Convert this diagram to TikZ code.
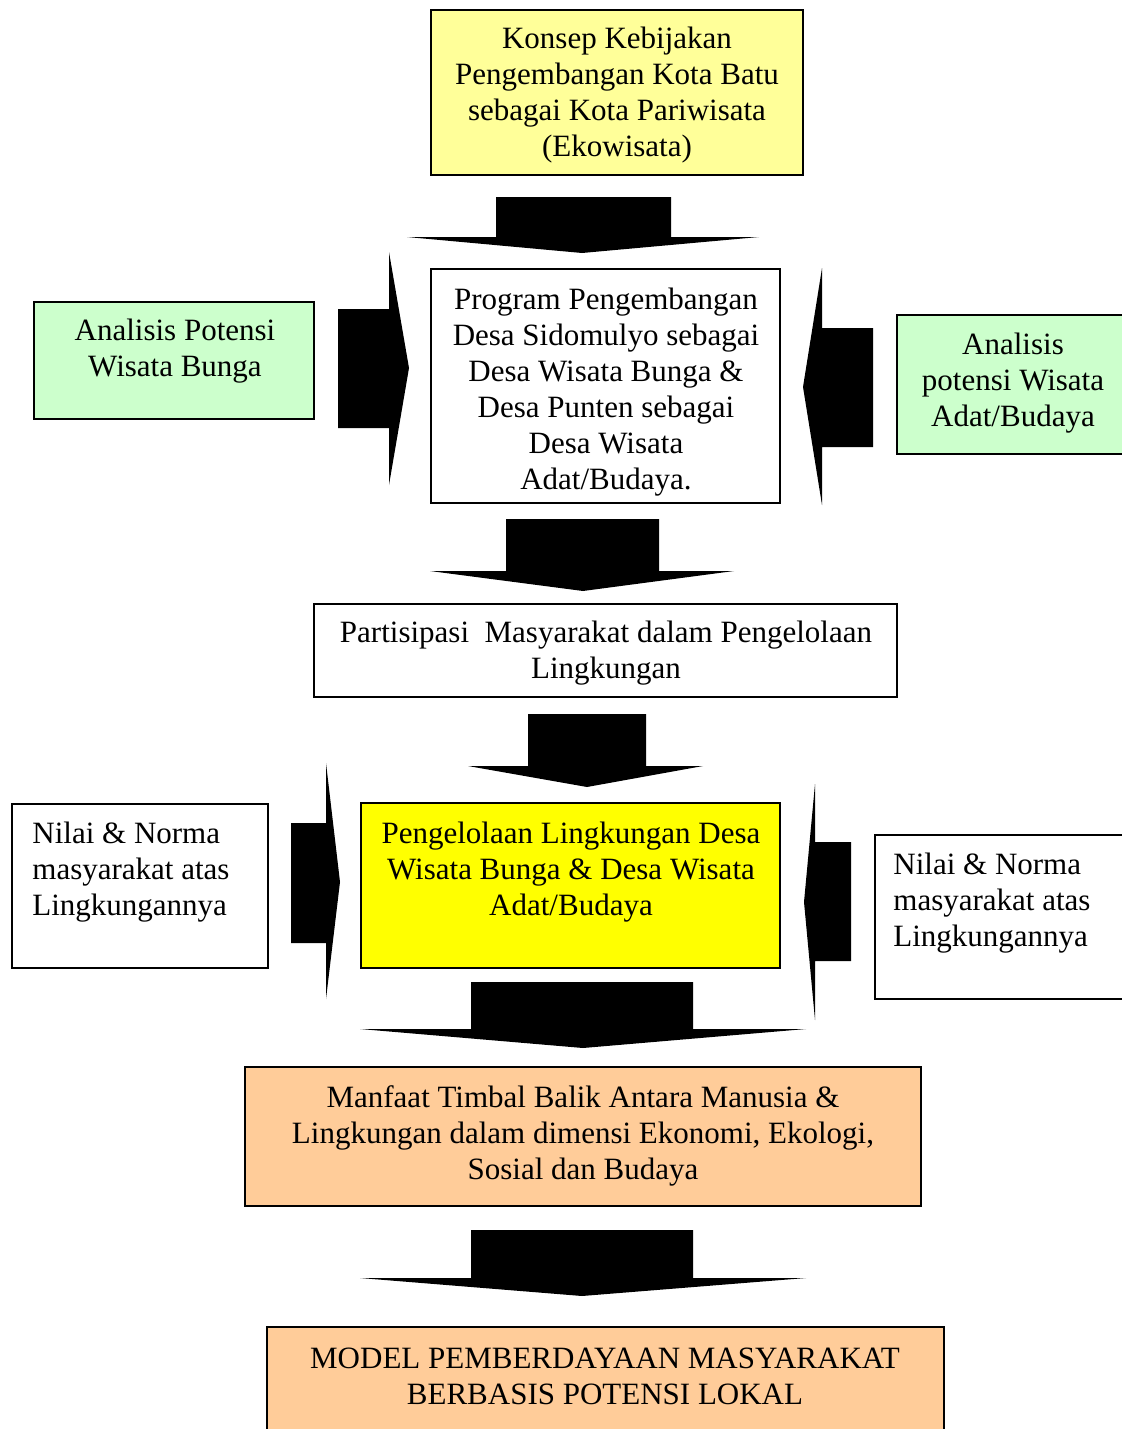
\documentclass[tikz,border=0pt]{standalone}
\usepackage{fontspec}
\setmainfont{Liberation Serif}
\usetikzlibrary{fit}
\definecolor{lightyellow}{HTML}{FFFF99}
\definecolor{brightyellow}{HTML}{FFFF00}
\definecolor{lightgreen}{HTML}{CCFFCC}
\definecolor{peach}{HTML}{FFCC99}
\tikzset{
  box/.style={draw=black, line width=0.8pt, rectangle, inner sep=0pt},
  txt/.style={align=center, inner sep=0pt, font=\fontsize{15.5}{18}\selectfont},
  txtl/.style={align=left, inner sep=0pt, font=\fontsize{15.5}{18}\selectfont},
  blockarrow/.style={fill=black, draw=none}
}
\begin{document}
\begin{tikzpicture}[x=0.5pt,y=-0.5pt]
\useasboundingbox (0,0) rectangle (1121,1429);

% boxes
\node[box, fill=lightyellow, fit={(431,10) (803,175)}] (konsep) {};
\node[box, fill=white, fit={(431,269) (780,503)}] (program) {};
\node[box, fill=lightgreen, fit={(34,302) (314,419)}] (anl) {};
\node[box, fill=lightgreen, fit={(897,315) (1125,454)}] (anr) {};
\node[box, fill=white, fit={(314,604) (897,697)}] (partisipasi) {};
\node[box, fill=white, fit={(12,804) (268,968)}] (nilail) {};
\node[box, fill=brightyellow, fit={(361,803) (780,968)}] (pengelolaan) {};
\node[box, fill=white, fit={(875,835) (1125,999)}] (nilair) {};
\node[box, fill=peach, fit={(245,1067) (921,1206)}] (manfaat) {};
\node[box, fill=peach, fit={(267,1327) (944,1435)}] (model) {};

% texts
\node[txt] (tkonsep) at (617,95.5) {Konsep Kebijakan\\Pengembangan Kota Batu\\sebagai Kota Pariwisata\\(Ekowisata)};
\node[txt] (tprogram) at (606,392) {Program Pengembangan\\Desa Sidomulyo sebagai\\Desa Wisata Bunga \&\\Desa Punten sebagai\\Desa Wisata\\Adat/Budaya.};
\node[txt] (tanl) at (175,351.5) {Analisis Potensi\\Wisata Bunga};
\node[txt] (tanr) at (1013,383.5) {Analisis\\potensi Wisata\\Adat/Budaya};
\node[txt] (tpart) at (606,653.5) {Partisipasi\ \ Masyarakat dalam Pengelolaan\\Lingkungan};
\node[txtl, anchor=west] (tnilail) at (32,872.5) {Nilai \& Norma\\masyarakat atas\\Lingkungannya};
\node[txt] (tpeng) at (571,872.5) {Pengelolaan Lingkungan Desa\\Wisata Bunga \& Desa Wisata\\Adat/Budaya};
\node[txtl, anchor=west] (tnilair) at (893,903.5) {Nilai \& Norma\\masyarakat atas\\Lingkungannya};
\node[txt] (tmanfaat) at (583,1136) {Manfaat Timbal Balik Antara Manusia \&\\Lingkungan dalam dimensi Ekonomi, Ekologi,\\Sosial dan Budaya};
\node[txt] (tmodel) at (605,1376) {MODEL PEMBERDAYAAN MASYARAKAT\\BERBASIS POTENSI LOKAL};

% block arrows (down)
\fill[blockarrow] (496,197) -- (671,197) -- (671,237) -- (759,237) -- (582,253) -- (407,237) -- (496,237) -- cycle;
\fill[blockarrow] (506,519) -- (659,519) -- (659,571) -- (734,571) -- (583,591) -- (430,571) -- (506,571) -- cycle;
\fill[blockarrow] (528,714) -- (646,714) -- (646,766) -- (703,766) -- (587,787) -- (468,766) -- (528,766) -- cycle;
\fill[blockarrow] (471,982) -- (693,982) -- (693,1029) -- (806,1029) -- (583,1048) -- (360,1029) -- (471,1029) -- cycle;
\fill[blockarrow] (471,1230) -- (693,1230) -- (693,1278) -- (806,1278) -- (582,1296) -- (360,1278) -- (471,1278) -- cycle;

% block arrows (right-pointing, left side)
\fill[blockarrow] (338,309) -- (389,309) -- (389,252) -- (409,368) -- (389,485) -- (389,428) -- (338,428) -- cycle;
\fill[blockarrow] (291,823) -- (326,823) -- (326,763) -- (340,882) -- (326,999) -- (326,943) -- (291,943) -- cycle;

% block arrows (left-pointing, right side)
\fill[blockarrow] (873,328) -- (822,328) -- (822,268) -- (803,387) -- (822,505) -- (822,447) -- (873,447) -- cycle;
\fill[blockarrow] (851,842) -- (815,842) -- (815,784) -- (804,902) -- (815,1020) -- (815,961) -- (851,961) -- cycle;
\end{tikzpicture}
\end{document}
